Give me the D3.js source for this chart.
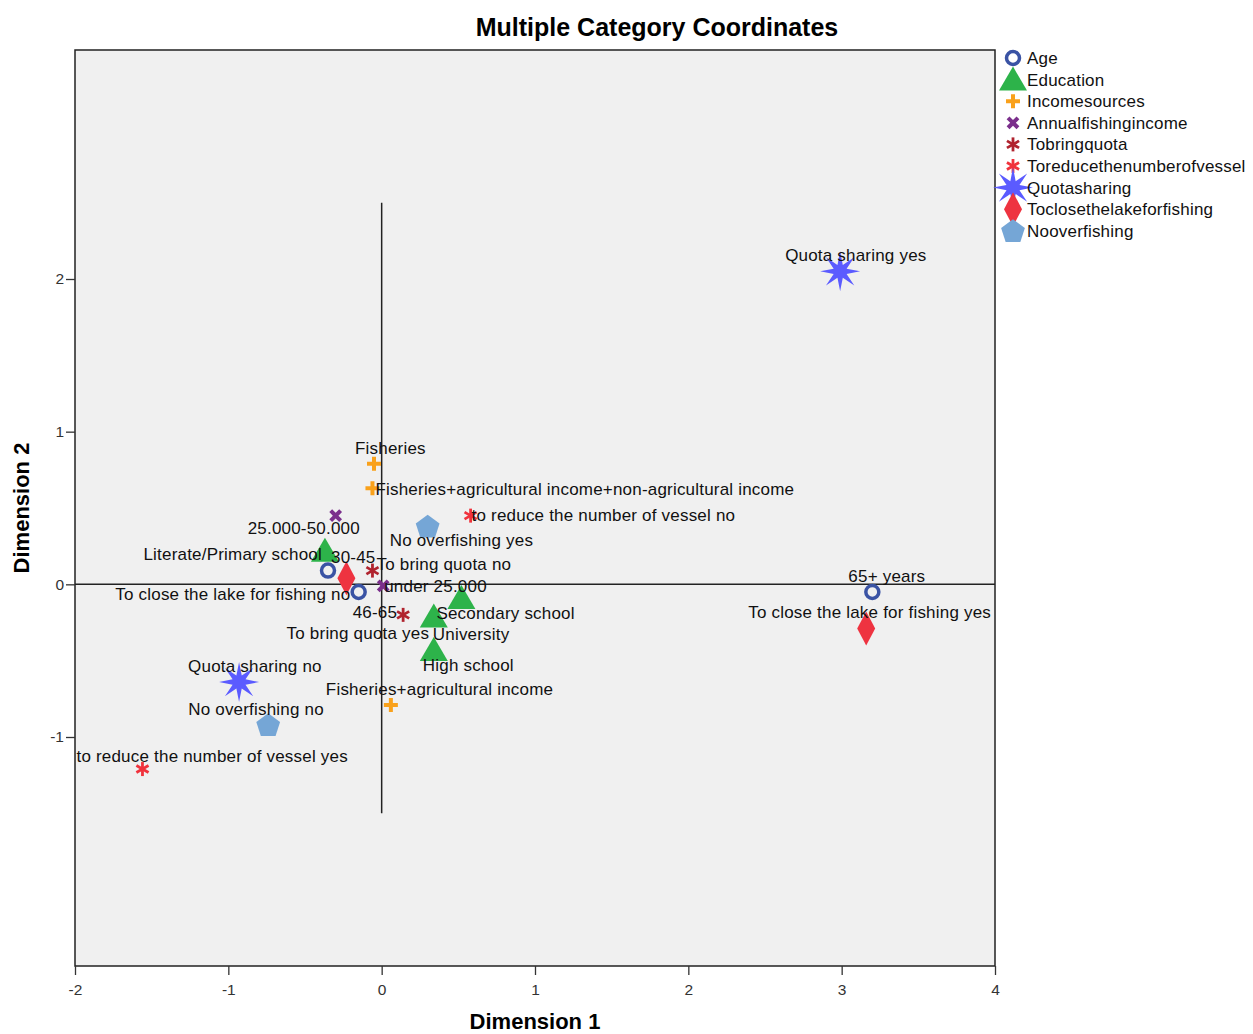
<!DOCTYPE html>
<html>
<head>
<meta charset="utf-8">
<script src="https://cdn.jsdelivr.net/npm/d3@7"></script>
<style>
  body { margin: 0; background: #fff; }
  svg text { font-family: "Liberation Sans", Arial, sans-serif; }
</style>
</head>
<body>
<svg id="chart" width="1253" height="1034"></svg>
<script>
// category points: [label, dimension 1, dimension 2]
const age = [['30-45', -0.35, 0.09], ['46-65', -0.15, -0.05], ['65+ years', 3.20, -0.05]]
const education = [['Literate/Primary school', -0.37, 0.22], ['Secondary school', 0.52, -0.09],
    ['University', 0.34, -0.21], ['High school', 0.34, -0.43]]
const incomeSources = [['Fisheries', -0.05, 0.79],
    ['Fisheries+agricultural income+non-agricultural income', -0.06, 0.63],
    ['Fisheries+agricultural income', 0.06, -0.79]]
const annualIncome = [['25.000-50.000', -0.30, 0.45], ['under 25.000', 0.01, -0.01]]
const bringQuota = [['To bring quota no', -0.06, 0.09], ['To bring quota yes', 0.14, -0.20]]
const reduceVessel = [['to reduce the number of vessel no', 0.58, 0.45],
    ['to reduce the number of vessel yes', -1.56, -1.21]]
const quotaSharing = [['Quota sharing yes', 2.99, 2.05], ['Quota sharing no', -0.93, -0.64]]
const closeLake = [['To close the lake for fishing no', -0.23, 0.04],
    ['To close the lake for fishing yes', 3.16, -0.29]]
const noOverfishing = [['No overfishing yes', 0.30, 0.38], ['No overfishing no', -0.74, -0.92]]

const groupNames = ['Age', 'Education', 'Incomesources', 'Annualfishingincome', 'Tobringquota',
    'Toreducethenumberofvessel', 'Quotasharing', 'Toclosethelakeforfishing', 'Nooverfishing']
const groupData = [age, education, incomeSources, annualIncome, bringQuota, reduceVessel,
    quotaSharing, closeLake, noOverfishing]

const xTicks = [-2, -1, 0, 1, 2, 3, 4]
const yTicks = [-1, 0, 1, 2]

// marker style per group
const markers = {
    Age: { shape: 'ring', color: '#3a53a4' },
    Education: { shape: 'triangle', color: '#2db34a' },
    Incomesources: { shape: 'plus', color: '#f9a11b' },
    Annualfishingincome: { shape: 'x', color: '#7b2f8c' },
    Tobringquota: { shape: 'asterisk', color: '#b0232e' },
    Toreducethenumberofvessel: { shape: 'asterisk', color: '#f0323c' },
    Quotasharing: { shape: 'star', color: '#5b5bff' },
    Toclosethelakeforfishing: { shape: 'diamond', color: '#ee3340' },
    Nooverfishing: { shape: 'pentagon', color: '#75a6d6' },
}

// label placement relative to point (px): [dx, dy, anchor]
const labelPos = {
    '30-45': [3, -14, 'start'], '46-65': [-6, 20, 'start'], '65+ years': [-24, -16, 'start'],
    'Literate/Primary school': [-3, 3, 'end'], 'Secondary school': [-25, 15, 'start'],
    'University': [-1, 18, 'start'], 'High school': [-11, 15, 'start'],
    'Fisheries': [-19, -16, 'start'],
    'Fisheries+agricultural income+non-agricultural income': [3, 1, 'start'],
    'Fisheries+agricultural income': [-65, -16, 'start'],
    '25.000-50.000': [-88, 12, 'start'], 'under 25.000': [1, 0, 'start'],
    'To bring quota no': [4, -7, 'start'], 'To bring quota yes': [26, 18, 'end'],
    'to reduce the number of vessel no': [1, -1, 'start'],
    'to reduce the number of vessel yes': [-66, -13, 'start'],
    'Quota sharing yes': [-55, -16, 'start'], 'Quota sharing no': [-51, -16, 'start'],
    'To close the lake for fishing no': [4, 16, 'end'],
    'To close the lake for fishing yes': [-118, -17, 'start'],
    'No overfishing yes': [-38, 14, 'start'], 'No overfishing no': [-80, -16, 'start'],
}

const svg = d3.select('#chart')
const plot = { left: 75, right: 995, top: 50, bottom: 966 }

const x = d3.scaleLinear().domain([-2, 4]).range([plot.left, plot.right])
const y = d3.scaleLinear().domain([-2.5, 3.5]).range([plot.bottom, plot.top])

// background + frame
svg.append('rect')
    .attr('x', plot.left).attr('y', plot.top)
    .attr('width', plot.right - plot.left).attr('height', plot.bottom - plot.top)
    .attr('fill', '#f0f0f0').attr('stroke', '#222').attr('stroke-width', 1.5)

// axes
const xAxis = svg.append('g')
    .attr('transform', `translate(0,${plot.bottom})`)
    .call(d3.axisBottom(x).tickValues(xTicks).tickSize(9).tickSizeOuter(0).tickFormat(d => String(d)))
const yAxis = svg.append('g')
    .attr('transform', `translate(${plot.left},0)`)
    .call(d3.axisLeft(y).tickValues(yTicks).tickSize(9).tickSizeOuter(0).tickFormat(d => String(d)))
for (const ax of [xAxis, yAxis]) {
    ax.select('.domain').remove()
    ax.selectAll('line').attr('stroke', '#333').attr('stroke-width', 1.3)
    ax.selectAll('text').attr('font-size', 15.5).attr('fill', '#333')
        .style('font-family', '"Liberation Sans Narrow", "Liberation Sans", Arial, sans-serif')
}
xAxis.selectAll('text').attr('dy', '1.1em')
yAxis.selectAll('text').attr('x', -11)

// reference lines at origin
svg.append('line')
    .attr('x1', plot.left).attr('x2', plot.right)
    .attr('y1', y(0)).attr('y2', y(0))
    .attr('stroke', '#222').attr('stroke-width', 1.5)
svg.append('line')
    .attr('x1', x(0)).attr('x2', x(0))
    .attr('y1', y(2.5)).attr('y2', y(-1.5))
    .attr('stroke', '#222').attr('stroke-width', 1.5)

// marker shapes
function shapePath(shape) {
    const pts = (n, rOut, rIn, rot) => {
        const p = []
        const step = Math.PI / n
        for (let i = 0; i < 2 * n; i++) {
            const r = i % 2 === 0 ? rOut : rIn
            const a = rot + i * step
            p.push([r * Math.sin(a), -r * Math.cos(a)])
        }
        return 'M' + p.map(d => d.join(',')).join('L') + 'Z'
    }
    switch (shape) {
        case 'triangle': return 'M0,-13L14,11L-14,11Z'
        case 'diamond': return 'M0,-17L9,0L0,17L-9,0Z'
        case 'star': return pts(8, 20, 7, 0)
        case 'pentagon': {
            const p = d3.range(5).map(i => {
                const a = i * 2 * Math.PI / 5
                return [12.5 * Math.sin(a), -12.5 * Math.cos(a) + 1]
            })
            return 'M' + p.map(d => d.join(',')).join('L') + 'Z'
        }
        case 'plus': return 'M-2,-7H2V-2H7V2H2V7H-2V2H-7V-2H-2Z'
        case 'x': return 'M-2,-7H2V-2H7V2H2V7H-2V2H-7V-2H-2Z'
        default: return null
    }
}

function drawMarker(g, shape, color) {
    if (shape === 'ring') {
        g.append('circle').attr('r', 6.5).attr('fill', 'none')
            .attr('stroke', color).attr('stroke-width', 3.5)
    } else if (shape === 'asterisk') {
        for (const a of [0, 60, 120]) {
            g.append('line').attr('x1', 0).attr('y1', -7).attr('x2', 0).attr('y2', 7)
                .attr('transform', `rotate(${a})`)
                .attr('stroke', color).attr('stroke-width', 2.8)
        }
    } else {
        g.append('path').attr('d', shapePath(shape)).attr('fill', color)
            .attr('transform', shape === 'x' ? 'rotate(45)' : null)
    }
}

const points = groupNames.flatMap((name, i) =>
    groupData[i].map(([label, d1, d2]) => ({ group: name, label, d1, d2 })))

// markers
svg.append('g').selectAll('g')
    .data(points)
    .join('g')
    .attr('transform', d => `translate(${x(d.d1)},${y(d.d2)})`)
    .each(function (d) {
        drawMarker(d3.select(this), markers[d.group].shape, markers[d.group].color)
    })

// labels
svg.append('g').selectAll('text')
    .data(points)
    .join('text')
    .attr('x', d => x(d.d1) + labelPos[d.label][0])
    .attr('y', d => y(d.d2) + labelPos[d.label][1])
    .attr('dy', '0.35em')
    .attr('text-anchor', d => labelPos[d.label][2])
    .attr('font-size', 17)
    .attr('letter-spacing', 0.2)
    .attr('fill', '#111')
    .text(d => d.label)

// legend
const legend = svg.append('g').attr('transform', 'translate(1013,58)')
const li = legend.selectAll('g')
    .data(groupNames)
    .join('g')
    .attr('transform', (d, i) => `translate(0,${i * 21.6})`)
li.each(function (d) {
    drawMarker(d3.select(this), markers[d].shape, markers[d].color)
})
li.append('text')
    .attr('x', 14).attr('dy', '0.35em')
    .attr('font-size', 17).attr('letter-spacing', 0.2).attr('fill', '#111')
    .text(d => d)

// titles
svg.append('text')
    .attr('x', 657).attr('y', 36)
    .attr('text-anchor', 'middle')
    .attr('font-size', 25).attr('font-weight', 'bold')
    .text('Multiple Category Coordinates')
svg.append('text')
    .attr('x', (plot.left + plot.right) / 2).attr('y', 1029)
    .attr('text-anchor', 'middle')
    .attr('font-size', 22).attr('font-weight', 'bold')
    .text('Dimension 1')
svg.append('text')
    .attr('transform', `translate(29,${(plot.top + plot.bottom) / 2}) rotate(-90)`)
    .attr('text-anchor', 'middle')
    .attr('font-size', 22).attr('font-weight', 'bold')
    .text('Dimension 2')
</script>
</body>
</html>
